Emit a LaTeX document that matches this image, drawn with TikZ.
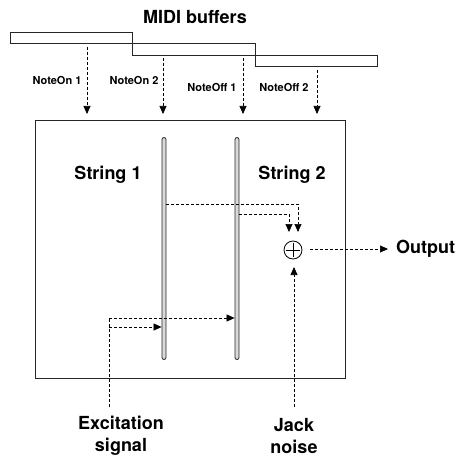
\documentclass[tikz,border=0pt]{standalone}
\usepackage{fontspec}
\setmainfont{TeX Gyre Heros}
\usetikzlibrary{arrows.meta,calc}
\begin{document}
\begin{tikzpicture}[x=1pt,y=-1pt,
  box/.style={draw=black!85,line width=0.8pt},
  buf/.style={draw=black!85,line width=0.8pt,minimum height=11.5pt,inner sep=0pt,anchor=north west},
  stringbar/.style={draw=black!85,fill=black!15,line width=0.8pt,minimum width=4pt,minimum height=222pt,inner sep=0pt,rounded corners=2pt},
  dsh/.style={line width=0.7pt,dash pattern=on 3pt off 2pt},
  dar/.style={dsh,-{Triangle[length=8pt,width=7pt]}},
  big/.style={font=\bfseries\fontsize{18}{22}\selectfont,inner sep=0pt,align=center},
  small/.style={font=\bfseries\fontsize{11}{12}\selectfont,inner sep=0pt},
  plus/.style={draw=black,line width=0.8pt,circle,minimum size=18pt,inner sep=0pt}]
\useasboundingbox (0,0) rectangle (457,457);
% title
\node[big] (title) at (195,17) {MIDI buffers};
% buffers
\node[buf,minimum width=122pt] (b1) at (10,32) {};
\node[buf,minimum width=123pt] (b2) at (132,43.5) {};
\node[buf,minimum width=122pt] (b3) at (255,55) {};
% main box
\node[box,minimum width=310pt,minimum height=258pt,inner sep=0pt,anchor=north west] (main) at (35,120) {};
% event arrows
\coordinate (e1s) at (87,47);  \coordinate (e1e) at (87,114);
\coordinate (e2s) at (163,58); \coordinate (e2e) at (163,114);
\coordinate (e3s) at (243,58); \coordinate (e3e) at (243,114);
\coordinate (e4s) at (317,70); \coordinate (e4e) at (317,114);
\draw[dar] (e1s) -- (e1e);
\draw[dar] (e2s) -- (e2e);
\draw[dar] (e3s) -- (e3e);
\draw[dar] (e4s) -- (e4e);
\node[small] (l1) at (57,80) {NoteOn 1};
\node[small] (l2) at (134,80) {NoteOn 2};
\node[small] (l3) at (212,87) {NoteOff 1};
\node[small] (l4) at (284,87) {NoteOff 2};
% strings
\node[stringbar] (s1) at (164,248.5) {};
\node[stringbar] (s2) at (237,248.5) {};
\node[big] (t1) at (108,175) {String 1};
\node[big] (t2) at (292,175) {String 2};
% plus
\node[plus] (p) at (293,250) {};
\draw[line width=0.8pt] ($(p.north)+(0,2)$) -- ($(p.south)+(0,-2)$) ($(p.west)+(2,0)$) -- ($(p.east)+(-2,0)$);
% string outputs to sum
\coordinate (a1) at (298,232);
\coordinate (a2) at (289,232);
\draw[dar] (s1.east |- 0,204) -| (a1);
\draw[dar] (s2.east |- 0,214) -| (a2);
% output
\node[big,anchor=west] (out) at (396,249) {Output};
\coordinate (o1) at (310,249);
\coordinate (o2) at (388,249);
\draw[dar] (o1) -- (o2);
% jack noise
\node[big] (jack) at (294,436) {Jack\\noise};
\coordinate (j1) at (294,407);
\coordinate (j2) at (294,267);
\draw[dar] (j1) -- (j2);
% excitation
\node[big] (exc) at (121,436) {Excitation\\signal};
\coordinate (x0) at (109,407);
\coordinate (x1) at (109,318);
\coordinate (x2) at (109,327);
\draw[dsh] (x0) -- (x1);
\draw[dar] (x1) -- (s2.west |- x1);
\draw[dar] (x2) -- (s1.west |- x2);
\end{tikzpicture}
\end{document}
